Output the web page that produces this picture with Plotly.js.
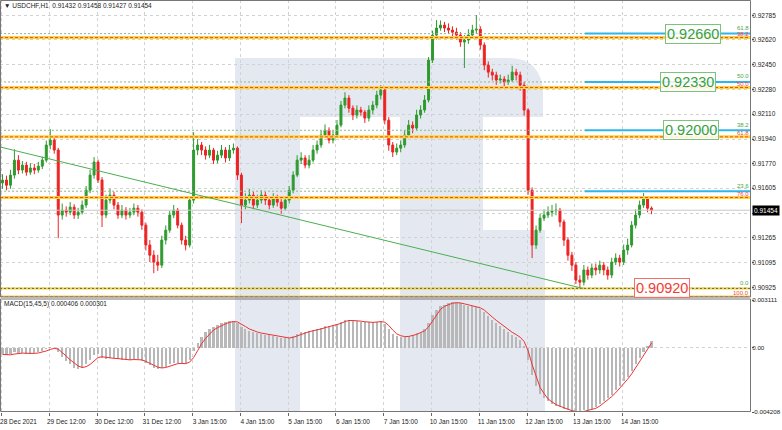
<!DOCTYPE html>
<html><head><meta charset="utf-8">
<script src="https://cdn.plot.ly/plotly-3.0.1.min.js"></script>
<style>html,body{margin:0;padding:0;background:#fff}#chart{width:782px;height:430px}</style>
</head><body><div id="chart"></div>
<script>
// ---- data (2-hour candles, USDCHF) ----
const openP = [0.91640,0.91660,0.91625,0.91694,0.91796,0.91728,0.91762,0.91714,0.91742,0.91728,
0.91755,0.91796,0.91899,0.91933,0.91865,0.91421,0.91455,0.91441,0.91475,0.91421,
0.91441,0.91489,0.91591,0.91694,0.91783,0.91660,0.91421,0.91523,0.91557,0.91489,
0.91421,0.91455,0.91421,0.91441,0.91468,0.91441,0.91352,0.91216,0.91147,0.91100,
0.91079,0.91250,0.91318,0.91421,0.91455,0.91352,0.91250,0.91216,0.91523,0.91865,
0.91899,0.91865,0.91830,0.91865,0.91796,0.91830,0.91865,0.91811,0.91865,0.91878,
0.91694,0.91489,0.91523,0.91557,0.91489,0.91523,0.91557,0.91523,0.91489,0.91537,
0.91509,0.91468,0.91523,0.91591,0.91694,0.91796,0.91811,0.91762,0.91796,0.91865,
0.91899,0.91967,0.92001,0.91933,0.91967,0.92035,0.92172,0.92220,0.92151,0.92104,
0.92138,0.92124,0.92083,0.92138,0.92172,0.92240,0.92274,0.92069,0.91899,0.91851,
0.91878,0.91899,0.91967,0.92035,0.92015,0.92104,0.92138,0.92206,0.92479,0.92650,
0.92698,0.92718,0.92698,0.92684,0.92670,0.92650,0.92602,0.92616,0.92650,0.92684,
0.92690,0.92582,0.92445,0.92397,0.92377,0.92343,0.92350,0.92330,0.92343,0.92397,
0.92377,0.92308,0.92138,0.91591,0.91216,0.91318,0.91400,0.91421,0.91441,0.91450,
0.91455,0.91374,0.91250,0.91147,0.91079,0.90977,0.90963,0.91046,0.91011,0.91060,
0.91046,0.91079,0.91046,0.91011,0.91100,0.91127,0.91100,0.91182,0.91216,0.91352,
0.91421,0.91489,0.91537,0.91468];
const highP = [0.91700,0.91690,0.91730,0.91870,0.91830,0.91790,0.91785,0.91775,0.91770,0.91785,
0.91820,0.91930,0.92008,0.91960,0.91880,0.91500,0.91480,0.91510,0.91495,0.91470,
0.91520,0.91620,0.91730,0.91817,0.91800,0.91680,0.91560,0.91600,0.91580,0.91510,
0.91490,0.91475,0.91470,0.91500,0.91490,0.91460,0.91370,0.91250,0.91180,0.91150,
0.91280,0.91350,0.91450,0.91490,0.91470,0.91370,0.91280,0.91550,0.91987,0.91940,
0.91920,0.91890,0.91900,0.91880,0.91860,0.91900,0.91885,0.91900,0.91910,0.91890,
0.91710,0.91570,0.91600,0.91580,0.91560,0.91590,0.91580,0.91550,0.91570,0.91560,
0.91530,0.91550,0.91620,0.91720,0.91830,0.91850,0.91830,0.91830,0.91900,0.91930,
0.92000,0.92040,0.92020,0.92000,0.92070,0.92200,0.92260,0.92240,0.92170,0.92170,
0.92160,0.92140,0.92170,0.92200,0.92270,0.92308,0.92290,0.92090,0.91920,0.91910,
0.91930,0.92000,0.92070,0.92060,0.92140,0.92170,0.92240,0.92500,0.92680,0.92752,
0.92750,0.92740,0.92730,0.92710,0.92700,0.92670,0.92650,0.92690,0.92720,0.92787,
0.92710,0.92600,0.92470,0.92420,0.92400,0.92380,0.92370,0.92380,0.92440,0.92420,
0.92400,0.92330,0.92150,0.91610,0.91350,0.91430,0.91460,0.91480,0.91490,0.91500,
0.91470,0.91390,0.91270,0.91170,0.91100,0.91010,0.91080,0.91070,0.91090,0.91090,
0.91110,0.91100,0.91070,0.91130,0.91160,0.91150,0.91220,0.91260,0.91380,0.91460,
0.91520,0.91571,0.91550,0.91480];
const lowP = [0.91600,0.91590,0.91600,0.91670,0.91700,0.91705,0.91690,0.91695,0.91700,0.91710,
0.91735,0.91780,0.91870,0.91840,0.91263,0.91390,0.91410,0.91420,0.91395,0.91395,
0.91425,0.91470,0.91570,0.91670,0.91640,0.91339,0.91400,0.91500,0.91460,0.91395,
0.91400,0.91390,0.91400,0.91420,0.91410,0.91320,0.91180,0.91100,0.91024,0.91040,
0.91060,0.91220,0.91300,0.91400,0.91330,0.91220,0.91180,0.91200,0.91500,0.91830,
0.91830,0.91800,0.91810,0.91770,0.91775,0.91810,0.91780,0.91790,0.91840,0.91660,
0.91366,0.91460,0.91500,0.91460,0.91470,0.91500,0.91490,0.91460,0.91470,0.91480,
0.91430,0.91450,0.91500,0.91570,0.91680,0.91770,0.91740,0.91740,0.91780,0.91840,
0.91880,0.91950,0.91910,0.91910,0.91950,0.92020,0.92150,0.92120,0.92070,0.92080,
0.92100,0.92050,0.92060,0.92110,0.92150,0.92210,0.92040,0.91860,0.91817,0.91830,
0.91850,0.91880,0.91950,0.91980,0.92000,0.92080,0.92120,0.92190,0.92460,0.92620,
0.92680,0.92670,0.92660,0.92640,0.92620,0.92570,0.92425,0.92590,0.92630,0.92660,
0.92550,0.92410,0.92360,0.92340,0.92310,0.92320,0.92300,0.92310,0.92330,0.92340,
0.92270,0.92100,0.91560,0.91127,0.91190,0.91300,0.91380,0.91400,0.91410,0.91420,
0.91340,0.91210,0.91110,0.91040,0.90950,0.90920,0.90940,0.90980,0.90990,0.91010,
0.91020,0.91010,0.90980,0.90990,0.91080,0.91070,0.91080,0.91150,0.91200,0.91330,
0.91400,0.91470,0.91440,0.91427];
const closeP = [0.91660,0.91625,0.91694,0.91796,0.91728,0.91762,0.91714,0.91742,0.91728,0.91755,
0.91796,0.91899,0.91933,0.91865,0.91421,0.91455,0.91441,0.91475,0.91421,0.91441,
0.91489,0.91591,0.91694,0.91783,0.91660,0.91421,0.91523,0.91557,0.91489,0.91421,
0.91455,0.91421,0.91441,0.91468,0.91441,0.91352,0.91216,0.91147,0.91100,0.91079,
0.91250,0.91318,0.91421,0.91455,0.91352,0.91250,0.91216,0.91523,0.91865,0.91899,
0.91865,0.91830,0.91865,0.91796,0.91830,0.91865,0.91811,0.91865,0.91878,0.91694,
0.91489,0.91523,0.91557,0.91489,0.91523,0.91557,0.91523,0.91489,0.91537,0.91509,
0.91468,0.91523,0.91591,0.91694,0.91796,0.91811,0.91762,0.91796,0.91865,0.91899,
0.91967,0.92001,0.91933,0.91967,0.92035,0.92172,0.92220,0.92151,0.92104,0.92138,
0.92124,0.92083,0.92138,0.92172,0.92240,0.92274,0.92069,0.91899,0.91851,0.91878,
0.91899,0.91967,0.92035,0.92015,0.92104,0.92138,0.92206,0.92479,0.92650,0.92698,
0.92718,0.92698,0.92684,0.92670,0.92650,0.92602,0.92616,0.92650,0.92684,0.92690,
0.92582,0.92445,0.92397,0.92377,0.92343,0.92350,0.92330,0.92343,0.92397,0.92377,
0.92308,0.92138,0.91591,0.91216,0.91318,0.91400,0.91421,0.91441,0.91450,0.91455,
0.91374,0.91250,0.91147,0.91079,0.90977,0.90963,0.91046,0.91011,0.91060,0.91046,
0.91079,0.91046,0.91011,0.91100,0.91127,0.91100,0.91182,0.91216,0.91352,0.91421,
0.91489,0.91537,0.91468,0.91454];
const macdMain = [-0.00045,-0.00050,-0.00045,-0.00030,-0.00035,-0.00035,-0.00040,-0.00040,-0.00035,-0.00030,
-0.00025,-0.00010,0.00005,0.00000,-0.00030,-0.00060,-0.00090,-0.00110,-0.00130,-0.00140,
-0.00135,-0.00110,-0.00080,-0.00050,-0.00045,-0.00070,-0.00075,-0.00070,-0.00070,-0.00075,
-0.00080,-0.00080,-0.00080,-0.00075,-0.00075,-0.00085,-0.00100,-0.00115,-0.00130,-0.00140,
-0.00135,-0.00125,-0.00110,-0.00100,-0.00100,-0.00105,-0.00110,-0.00080,-0.00020,0.00030,
0.00070,0.00100,0.00120,0.00135,0.00150,0.00160,0.00170,0.00175,0.00175,0.00160,
0.00135,0.00120,0.00110,0.00100,0.00095,0.00090,0.00085,0.00080,0.00075,0.00070,
0.00065,0.00060,0.00065,0.00075,0.00090,0.00100,0.00105,0.00110,0.00115,0.00120,
0.00130,0.00140,0.00140,0.00145,0.00155,0.00170,0.00180,0.00180,0.00175,0.00175,
0.00170,0.00165,0.00165,0.00165,0.00170,0.00175,0.00155,0.00120,0.00090,0.00075,
0.00070,0.00070,0.00075,0.00080,0.00095,0.00105,0.00120,0.00160,0.00210,0.00245,
0.00270,0.00280,0.00290,0.00295,0.00295,0.00290,0.00280,0.00275,0.00270,0.00265,
0.00250,0.00230,0.00205,0.00180,0.00160,0.00140,0.00120,0.00100,0.00085,0.00070,
0.00050,0.00010,-0.00080,-0.00180,-0.00250,-0.00300,-0.00330,-0.00350,-0.00370,-0.00380,
-0.00390,-0.00400,-0.00410,-0.00420,-0.00420,-0.00420,-0.00410,-0.00405,-0.00400,-0.00390,
-0.00370,-0.00350,-0.00330,-0.00310,-0.00280,-0.00250,-0.00220,-0.00190,-0.00150,-0.00110,
-0.00070,-0.00030,0.00010,0.00041];
const macdSignal = [-0.00045,-0.00047,-0.00047,-0.00042,-0.00038,-0.00036,-0.00037,-0.00038,-0.00038,-0.00035,
-0.00030,-0.00022,-0.00012,-0.00005,-0.00010,-0.00030,-0.00055,-0.00080,-0.00100,-0.00120,
-0.00130,-0.00125,-0.00110,-0.00085,-0.00065,-0.00060,-0.00065,-0.00070,-0.00070,-0.00072,
-0.00075,-0.00078,-0.00080,-0.00078,-0.00077,-0.00080,-0.00090,-0.00100,-0.00115,-0.00128,
-0.00133,-0.00130,-0.00120,-0.00110,-0.00105,-0.00103,-0.00105,-0.00095,-0.00065,-0.00020,
0.00025,0.00060,0.00090,0.00115,0.00130,0.00145,0.00155,0.00165,0.00170,0.00168,
0.00155,0.00138,0.00122,0.00110,0.00102,0.00095,0.00090,0.00085,0.00080,0.00075,
0.00070,0.00065,0.00063,0.00067,0.00077,0.00088,0.00097,0.00104,0.00110,0.00115,
0.00122,0.00130,0.00137,0.00141,0.00148,0.00158,0.00170,0.00177,0.00177,0.00176,
0.00173,0.00169,0.00166,0.00165,0.00167,0.00170,0.00166,0.00145,0.00115,0.00090,
0.00078,0.00072,0.00073,0.00077,0.00086,0.00098,0.00110,0.00135,0.00175,0.00215,
0.00250,0.00270,0.00282,0.00290,0.00293,0.00292,0.00286,0.00280,0.00274,0.00268,
0.00260,0.00245,0.00225,0.00200,0.00178,0.00157,0.00137,0.00117,0.00100,0.00085,
0.00068,0.00040,-0.00020,-0.00110,-0.00190,-0.00260,-0.00300,-0.00335,-0.00355,-0.00372,
-0.00383,-0.00393,-0.00403,-0.00412,-0.00417,-0.00420,-0.00417,-0.00410,-0.00405,-0.00397,
-0.00382,-0.00362,-0.00342,-0.00320,-0.00295,-0.00267,-0.00237,-0.00206,-0.00172,-0.00133,
-0.00093,-0.00052,-0.00012,0.00030];

// time axis (hours since the first bar, 28 Dec 2021)
const tickHours = [0,24,48,72,96,120,144,168,192,216,240,264,288,312];
const tickLabels = ['28 Dec 2021','29 Dec 12:00','30 Dec 12:00','31 Dec 12:00','3 Jan 15:00','4 Jan 15:00',
  '5 Jan 15:00','6 Jan 15:00','7 Jan 15:00','10 Jan 15:00','11 Jan 15:00','12 Jan 15:00','13 Jan 15:00','14 Jan 15:00'];
const priceTicks = [0.92785,0.92620,0.92450,0.92280,0.92110,0.91940,0.91770,0.91605,0.91435,0.91265,0.91095,0.90925];
const priceTickText = ['0.92785','0.92620','0.92450','0.92280','0.92110','0.91940','0.91770','0.91605','','0.91265','0.91095','0.90925'];
const macdTicks = [0.003111,0,-0.004208];
const macdTickText = ['0.003111','0.00','-0.004208'];

// drawn objects
const fibBlueLevels = [0.92660,0.92330,0.92000,0.91584];
const fibBlueNames = ['61.8','50.0','38.2','23.6'];
const fibZero = 0.90920;
const fibRedLevels = [0.92633,0.92292,0.91955,0.91541,0.90862];
const fibRedNames = ['38.2','50.0','61.8','76.0','100.0'];
const fibStartHour = 293;
const trendHours = [-0.7, 292];
const trendPrices = [0.91886, 0.90920];
const bidPrice = 0.91454;
const ohlcLast = ['0.91432','0.91458','0.91427','0.91454'];
const macdLast = ['0.000406','0.000301'];

const barHour = closeP.map((_, j) => 2*j + 0.5);

const W = 751, H = 412;
const px = x => x / W, py = y => 1 - y / H;
const XR = [-0.75, 376.45];

const traces = [
  {type:'candlestick', x:barHour, open:openP, high:highP, low:lowP, close:closeP,
   xaxis:'x', yaxis:'y',
   increasing:{line:{color:'#2f9a2f', width:1}, fillcolor:'#2f9a2f'},
   decreasing:{line:{color:'#ee2222', width:1}, fillcolor:'#ee2222'},
   whiskerwidth:0, hoverinfo:'skip'},
  {type:'bar', x:barHour, y:macdMain, xaxis:'x', yaxis:'y2', width:1.1,
   marker:{color:'#b8b8b8', line:{width:0}}, hoverinfo:'skip'},
  {type:'scatter', mode:'lines', x:barHour, y:macdSignal, xaxis:'x', yaxis:'y2',
   line:{color:'#f03030', width:1}, hoverinfo:'skip'}
];

const shapes = [];
// watermark (approximate logo)
const wm = '#e4e9f1';
shapes.push({type:'rect', xref:'paper', yref:'paper', x0:px(235), x1:px(300), y0:py(412), y1:py(58), fillcolor:wm, line:{width:0}, layer:'below'});
shapes.push({type:'path', xref:'paper', yref:'paper', layer:'below', fillcolor:wm, line:{width:0},
  path:`M${px(300)},${py(58)} L${px(508)},${py(58)} Q${px(543)},${py(58)} ${px(543)},${py(95)} L${px(543)},${py(117)} L${px(300)},${py(117)} Z`});
shapes.push({type:'rect', xref:'paper', yref:'paper', x0:px(400), x1:px(483), y0:py(230), y1:py(117), fillcolor:wm, line:{width:0}, layer:'below'});
shapes.push({type:'rect', xref:'paper', yref:'paper', x0:px(400), x1:px(545), y0:py(412), y1:py(230), fillcolor:wm, line:{width:0}, layer:'below'});

// bid line
shapes.push({type:'line', xref:'x', yref:'y', x0:XR[0], x1:XR[1], y0:bidPrice, y1:bidPrice, line:{color:'#c8c8c8', width:1}});
// red fib levels (yellow bands with red dashes)
fibRedLevels.forEach(v => {
  shapes.push({type:'line', xref:'x', yref:'y', x0:XR[0], x1:XR[1], y0:v, y1:v, line:{color:'#ffd23c', width:3}});
  shapes.push({type:'line', xref:'x', yref:'y', x0:XR[0], x1:XR[1], y0:v, y1:v, line:{color:'#e8502a', width:1, dash:'3px,2px'}});
});
// zero level
shapes.push({type:'line', xref:'x', yref:'y', x0:XR[0], x1:XR[1], y0:fibZero, y1:fibZero, line:{color:'#f0d040', width:2}});
shapes.push({type:'line', xref:'x', yref:'y', x0:XR[0], x1:XR[1], y0:fibZero, y1:fibZero, line:{color:'#6a6a30', width:1, dash:'2px,2px'}});
// blue fib levels
fibBlueLevels.forEach(v => {
  shapes.push({type:'line', xref:'x', yref:'y', x0:XR[0], x1:fibStartHour, y0:v, y1:v, line:{color:'#8fb88f', width:1, dash:'2px,2px'}});
  shapes.push({type:'line', xref:'x', yref:'y', x0:fibStartHour, x1:XR[1], y0:v, y1:v, line:{color:'#2fb6e8', width:2}});
});
// trend line
shapes.push({type:'line', xref:'x', yref:'y', x0:trendHours[0], x1:trendHours[1], y0:trendPrices[0], y1:trendPrices[1], line:{color:'#4caf50', width:1}});
// panel borders
shapes.push({type:'rect', xref:'paper', yref:'paper', x0:px(0.5), x1:px(750.5), y0:py(297), y1:py(0.5), line:{color:'#777', width:1}});
shapes.push({type:'rect', xref:'paper', yref:'paper', x0:px(0.5), x1:px(750.5), y0:py(411.5), y1:py(299), line:{color:'#777', width:1}});

const F = 'Liberation Sans, Arial, sans-serif';
const annotations = [];
annotations.push({xref:'paper', yref:'paper', x:px(2), y:py(6), xanchor:'left', yanchor:'middle', showarrow:false,
  text:'\u25BC USDCHF,H1  ' + ohlcLast.join(' '), font:{family:F, size:6.5, color:'#222'}});
annotations.push({xref:'paper', yref:'paper', x:px(2), y:py(304), xanchor:'left', yanchor:'middle', showarrow:false,
  text:'MACD(15,45,5) ' + macdLast.join(' '), font:{family:F, size:6.5, color:'#222'}});
fibBlueLevels.concat([fibZero]).forEach((v, i) => {
  annotations.push({xref:'paper', yref:'y', x:1, y:v, xanchor:'right', yanchor:'middle', xshift:-1, yshift:5.5, showarrow:false,
    borderpad:0, text:fibBlueNames.concat(['0.0'])[i], font:{family:F, size:6, color:'#4aa84a'}});
});
fibRedLevels.forEach((v, i) => {
  annotations.push({xref:'paper', yref:'y', x:1, y:v, xanchor:'right', yanchor:'middle', xshift:-1, yshift:3.6, showarrow:false,
    borderpad:0, text:fibRedNames[i], font:{family:F, size:6, color:'#f04848'}});
});
// level boxes
const boxHours = [347.3, 344.8, 346.3, 331.7];
fibBlueLevels.slice(0,3).concat([fibZero]).forEach((v, i) => {
  const red = i === 3;
  annotations.push({xref:'x', yref:'y', x:boxHours[i], y:v, xanchor:'center', yanchor:'middle', showarrow:false,
    text:v.toFixed(5), bgcolor:'rgba(255,255,255,0.85)', bordercolor: red ? '#f07070' : '#7cc47c', borderwidth:1, borderpad:1,
    font:{family:F, size:14.5, color: red ? '#f03c3c' : '#3aa03a'}});
});
// current price box
annotations.push({xref:'paper', yref:'y', x:1, y:bidPrice, xanchor:'left', yanchor:'middle', xshift:1, showarrow:false,
  text:bidPrice.toFixed(5), bgcolor:'#000', borderpad:1, font:{family:F, size:6.5, color:'#fff'}});

const axFont = {family:F, size:6.5, color:'#222'};
const layout = {
  width:782, height:430, margin:{l:0, r:31, t:0, b:18},
  paper_bgcolor:'#fff', plot_bgcolor:'#fff', showlegend:false,
  xaxis:{anchor:'y2', domain:[0,1], range:XR, tickmode:'array', tickvals:tickHours, ticktext:tickLabels,
    ticks:'outside', ticklen:3, tickcolor:'#666', tickfont:axFont, ticklabelshift:17,
    showgrid:true, gridcolor:'#d2d2d2', griddash:'dot', gridwidth:1, zeroline:false, showline:false,
    rangeslider:{visible:false}, fixedrange:true},
  yaxis:{anchor:'x', domain:[py(297), 1], range:[0.908615, 0.928895], side:'right', tickmode:'array',
    tickvals:priceTicks, ticktext:priceTickText, ticks:'outside', ticklen:2, tickcolor:'#666', ticklabelstandoff:-3,
    tickfont:axFont, showgrid:true, gridcolor:'#d2d2d2', griddash:'dot', zeroline:false, showline:false, fixedrange:true},
  yaxis2:{anchor:'x', domain:[0, py(300)], range:[-0.004208, 0.003111], side:'right', tickmode:'array',
    tickvals:macdTicks, ticktext:macdTickText, ticks:'outside', ticklen:2, tickcolor:'#666', ticklabelstandoff:-3,
    tickfont:{family:F, size:6.2, color:'#222'}, showgrid:true, gridcolor:'#d2d2d2', griddash:'dot', zeroline:false, showline:false, fixedrange:true},
  shapes, annotations, bargap:0
};
Plotly.newPlot('chart', traces, layout, {staticPlot:true, displayModeBar:false});
</script></body></html>
